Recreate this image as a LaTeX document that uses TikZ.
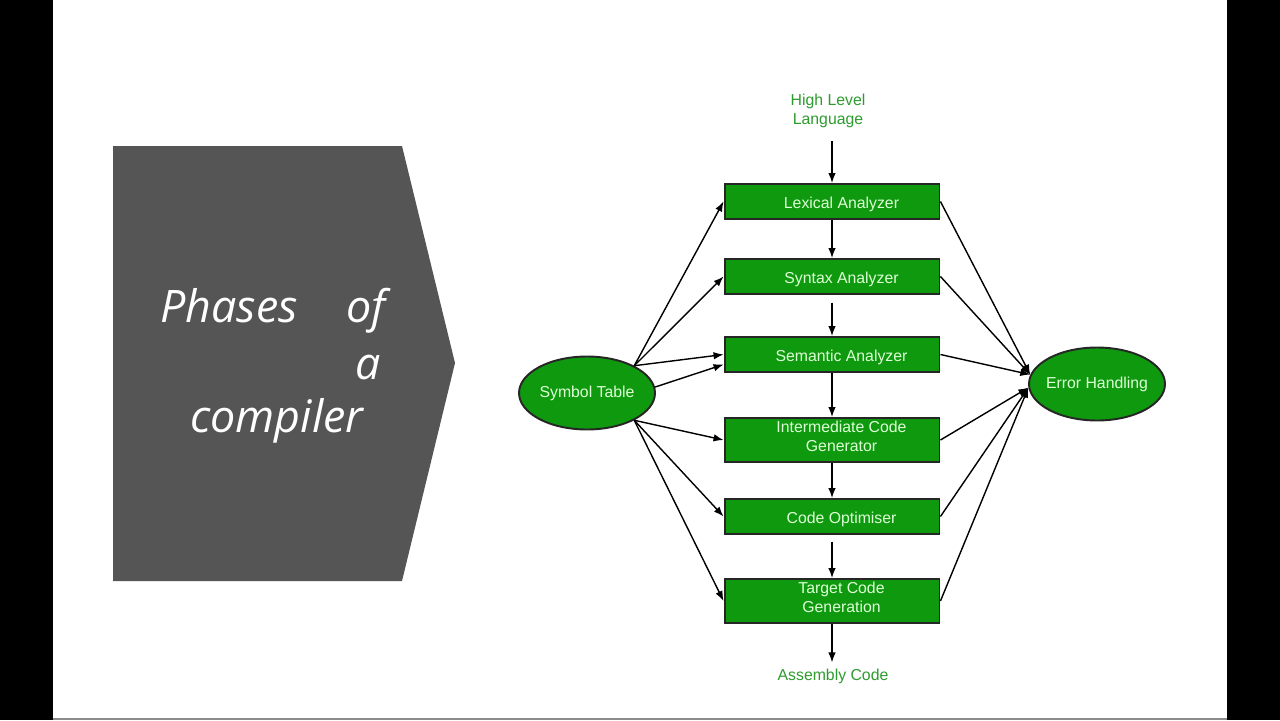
\documentclass[tikz,border=0pt]{standalone}
\usepackage{fontspec}
\setmainfont{Liberation Sans}
\newfontfamily\titlefont{Open Sans}
\usetikzlibrary{arrows.meta,shapes.geometric}
\definecolor{phasegreen}{HTML}{0F990F}
\definecolor{phaseink}{HTML}{DDFFD5}
\definecolor{langgreen}{HTML}{2E9B2E}
\definecolor{slidegray}{HTML}{555555}
\tikzset{
    phase/.style={draw=black!85, line width=1.1pt, fill=phasegreen, minimum width=4.3cm, minimum height=0.7cm, inner sep=0pt},
    tallphase/.style={phase, minimum height=0.88cm},
    phaselabel/.style={text=phaseink, font=\fontsize{9}{10.8}\selectfont, align=center, xshift=0.19cm, yshift=-0.05cm},
    talllabel/.style={phaselabel, yshift=0.12cm},
    tablenode/.style={ellipse, draw=black!85, line width=1.1pt, fill=phasegreen, minimum width=2.72cm, minimum height=1.46cm, inner sep=0pt, text=phaseink, font=\fontsize{9}{10.8}\selectfont},
    langtext/.style={text=langgreen, font=\fontsize{9}{10.8}\selectfont, align=center},
    titletext/.style={text=white, font=\titlefont\itshape\fontsize{25.5}{30}\selectfont, inner sep=0pt, anchor=base west},
    flow/.style={-{Latex[length=0.2cm,width=0.15cm]}, line width=0.8pt}
}
\begin{document}
\begin{tikzpicture}[x=0.02cm, y=-0.02cm]
    \useasboundingbox (0,0) rectangle (1280,720);
    \fill[black] (0,0) rectangle (1280,720);
    \fill[white] (53,0) rectangle (1227,718);
    \fill[black!45] (53,718) rectangle (1227,720);

    \fill[slidegray] (113,146) -- (402,146) -- (455,363) -- (402,581) -- (113,581) -- cycle;
    \node[titletext] (tphases) at (160,322) {Phases};
    \node[titletext] (tof) at (346,322) {of};
    \node[titletext] (ta) at (355,379) {a};
    \node[titletext] (tcompiler) at (190,432) {compiler};

    \node[langtext] (hll) at (828,111) {High Level\\Language};
    \node[phase, label={[phaselabel]center:Lexical Analyzer}] (lex) at (832,201.5) {};
    \node[phase, label={[phaselabel]center:Syntax Analyzer}] (syn) at (832,276.5) {};
    \node[phase, label={[phaselabel]center:Semantic Analyzer}] (sem) at (832,354.5) {};
    \node[tallphase, label={[talllabel]center:{Intermediate Code\\Generator}}] (icg) at (832,440) {};
    \node[phase, label={[phaselabel]center:Code Optimiser}] (opt) at (832,516.5) {};
    \node[tallphase, label={[talllabel]center:{Target Code\\Generation}}] (tcg) at (832,601) {};
    \node[langtext] (asm) at (833,676) {Assembly Code};
    \node[tablenode] (st) at (587,393) {Symbol Table};
    \node[tablenode, inner xsep=-0.08cm] (eh) at (1097,384) {Error Handling};

    \draw[flow] (hll.south -| lex) ++(0,7) -- (lex);
    \draw[flow] (lex) -- (syn);
    \draw[flow] (syn) ++(0,26) -- (sem);
    \draw[flow] (sem) -- (icg);
    \draw[flow] (icg) -- (opt);
    \draw[flow] (opt) ++(0,25) -- (tcg);
    \draw[flow] (tcg) -- (tcg |- asm.north);

    \foreach \p in {lex,syn,sem}
        \draw[flow] (st.30) -- (\p.west);
    \draw[flow] (st.5) -- ([yshift=-0.2cm]sem.west);
    \foreach \p in {icg,opt,tcg}
        \draw[flow] (st.330) -- (\p.west);

    \foreach \p in {lex,syn,sem}
        \draw[flow] (\p.east) -- (eh.172);
    \foreach \p in {icg,opt,tcg}
        \draw[flow] (\p.east) -- (eh.183);
\end{tikzpicture}
\end{document}
